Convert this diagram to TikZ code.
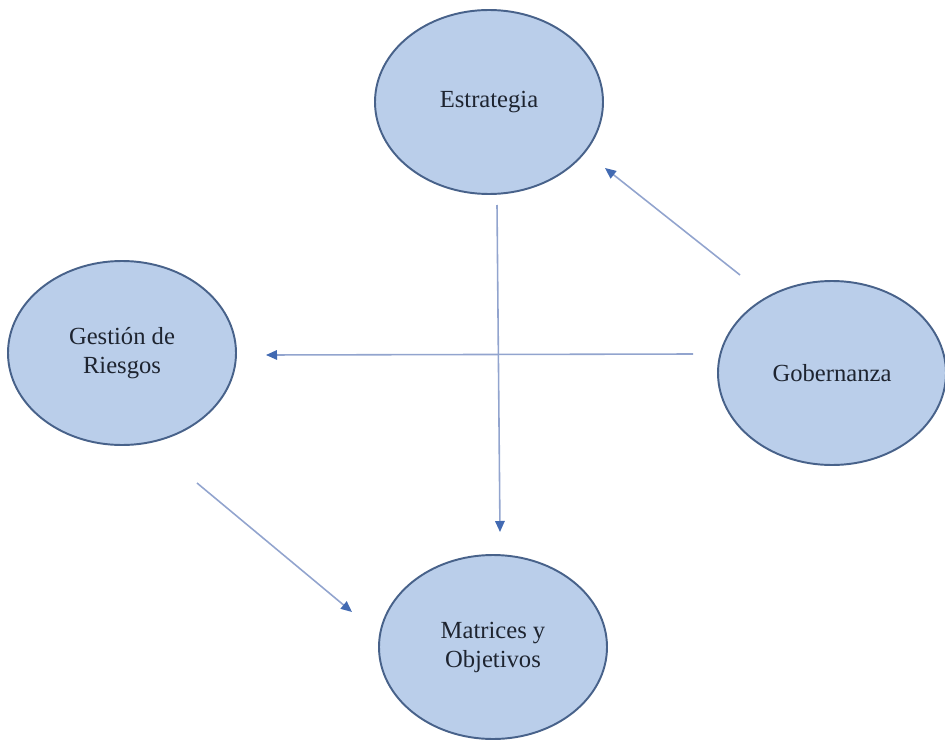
\documentclass[tikz,border=0pt]{standalone}
\usepackage{fontspec}
\setmainfont{Liberation Serif}
\usetikzlibrary{arrows.meta,shapes.geometric}
\definecolor{bubblefill}{RGB}{186,206,234}
\definecolor{bubbleline}{RGB}{72,98,138}
\definecolor{linkline}{RGB}{146,164,206}
\definecolor{tipblue}{RGB}{66,106,178}
\definecolor{textdark}{RGB}{30,36,48}
\tikzset{bubble/.style={ellipse, draw=bubbleline, fill=bubblefill, line width=1.1pt, minimum width=4.56cm, minimum height=3.68cm, inner sep=0pt, align=center, text=textdark, font=\rmfamily\fontsize{14}{16.5}\selectfont},
  link/.style={draw=linkline, line width=0.9pt, -{Triangle[length=2.2mm, width=1.9mm, color=tipblue]}}}

\begin{document}
\begin{tikzpicture}[x=0.2mm, y=-0.2mm]
   \useasboundingbox (0,0) rectangle (945,740);
   \node[bubble] (est) at (489,102) {Estrategia};
   \node[bubble] (ges) at (122,353) {Gestión de\\Riesgos};
   \node[bubble] (gob) at (832,373) {Gobernanza};
   \node[bubble] (mat) at (493,647) {Matrices y\\Objetivos};
   \draw[link] ([shift={(-92,-98)}]gob.center) -- ([shift={(116,66)}]est.center);
   \draw[link] ([shift={(-139,-19)}]gob.center) -- ([shift={(144,2)}]ges.center);
   \draw[link] ([shift={(8,103)}]est.center) -- ([shift={(7,-115)}]mat.center);
   \draw[link] ([shift={(75,130)}]ges.center) -- ([shift={(-141,-35)}]mat.center);
\end{tikzpicture}
\end{document}
